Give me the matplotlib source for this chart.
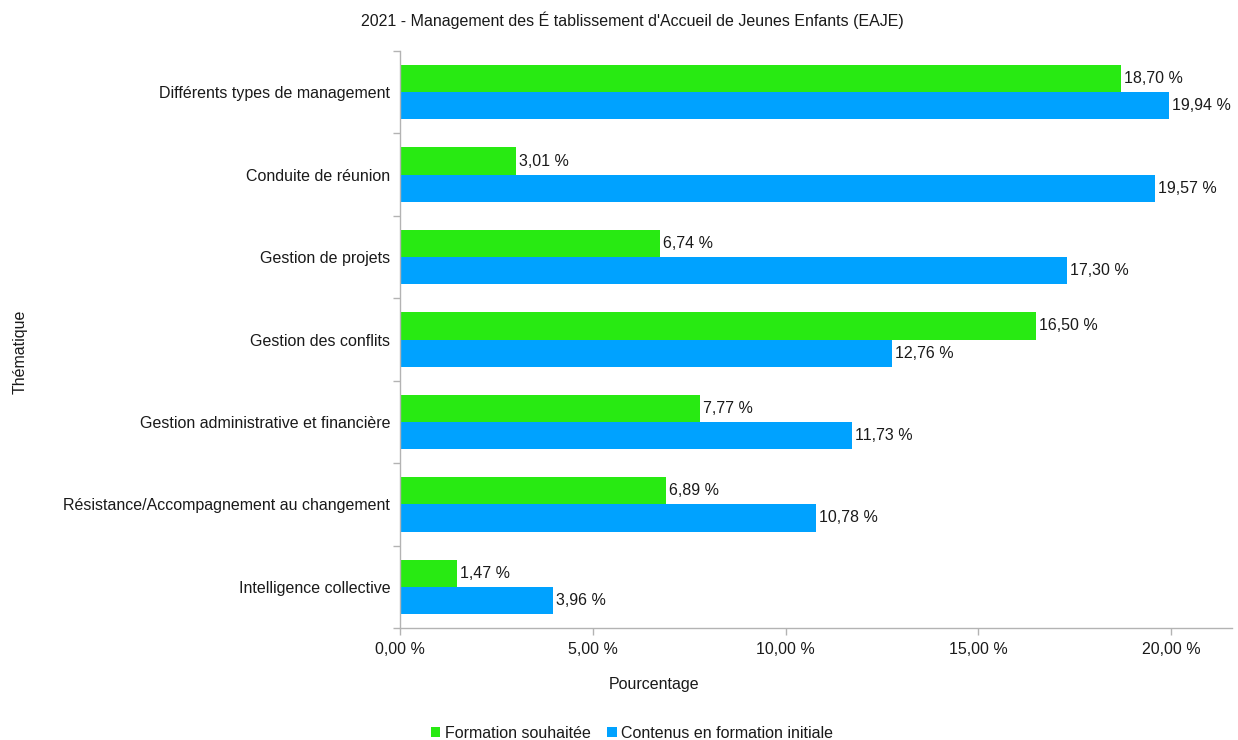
import matplotlib
matplotlib.use("Agg")
import matplotlib.pyplot as plt
import numpy as np

plt.rcParams['font.family'] = ['Liberation Sans', 'DejaVu Sans']

# Data
categories = [
    "Différents types de management",
    "Conduite de réunion",
    "Gestion de projets",
    "Gestion des conflits",
    "Gestion administrative et financière",
    "Résistance/Accompagnement au changement",
    "Intelligence collective",
]
souhaitee = [18.70, 3.01, 6.74, 16.50, 7.77, 6.89, 1.47]
initiale = [19.94, 19.57, 17.30, 12.76, 11.73, 10.78, 3.96]
series_names = ["Formation souhaitée", "Contenus en formation initiale"]
xticks = [0, 5, 10, 15, 20]

green = '#28ea12'
blue = '#00a2ff'
text_col = '#1a1a1a'
axis_col = '#b3b3b3'

fig = plt.figure(figsize=(12.38, 7.40), dpi=100)
ax = fig.add_axes([400/1238, 1 - 628/740, (1232-400)/1238, (628-51)/740])

n = len(categories)
y = np.arange(n)
h = 0.33

def fmt(v):
    return f"{v:.2f}".replace('.', ',') + " %"

b1 = ax.barh(y - h/2, souhaitee, h, color=green, label=series_names[0])
b2 = ax.barh(y + h/2, initiale, h, color=blue, label=series_names[1])

# value labels to the right of each bar
for bars, vals in [(b1, souhaitee), (b2, initiale)]:
    for bar, v in zip(bars, vals):
        ax.text(v + 0.08, bar.get_y() + bar.get_height()/2, fmt(v),
                va='center', ha='left', fontsize=11.5, color=text_col)

ax.set_ylim(n - 0.5, -0.5)
ax.set_xlim(0, 21.58)

ax.set_yticks(y)
ax.set_yticklabels(categories, fontsize=11.5, color=text_col)
ax.set_yticks(np.arange(n + 1) - 0.5, minor=True)
ax.tick_params(axis='y', which='major', length=0, pad=7)
ax.tick_params(axis='y', which='minor', length=5, color=axis_col, width=1)

ax.set_xticks(xticks)
ax.set_xticklabels([fmt(v) for v in xticks], fontsize=11.5, color=text_col)
ax.tick_params(axis='x', length=5, color=axis_col, width=1, pad=5)

for side in ['top', 'right']:
    ax.spines[side].set_visible(False)
for side in ['left', 'bottom']:
    ax.spines[side].set_color(axis_col)
    ax.spines[side].set_linewidth(1)

fig.text(632/1238, 1 - 20/740, "2021 - Management des É tablissement d'Accueil de Jeunes Enfants (EAJE)",
         ha='center', va='center', fontsize=11.5, color=text_col)
fig.text(654/1238, 1 - 685/740, "Pourcentage", ha='center', va='center', fontsize=11.5, color=text_col)
fig.text(20/1238, 1 - 352/740, "Thématique", ha='center', va='center', rotation=90,
         fontsize=11.5, color=text_col)

fig.legend(handles=[b1, b2], labels=series_names, loc='center', bbox_to_anchor=(632/1238, 1 - 733/740),
           ncol=2, frameon=False, fontsize=11.5, handlelength=0.6, handleheight=0.6,
           handletextpad=0.3, columnspacing=1.0, labelcolor=text_col)

fig.savefig("out.png", dpi=100)
